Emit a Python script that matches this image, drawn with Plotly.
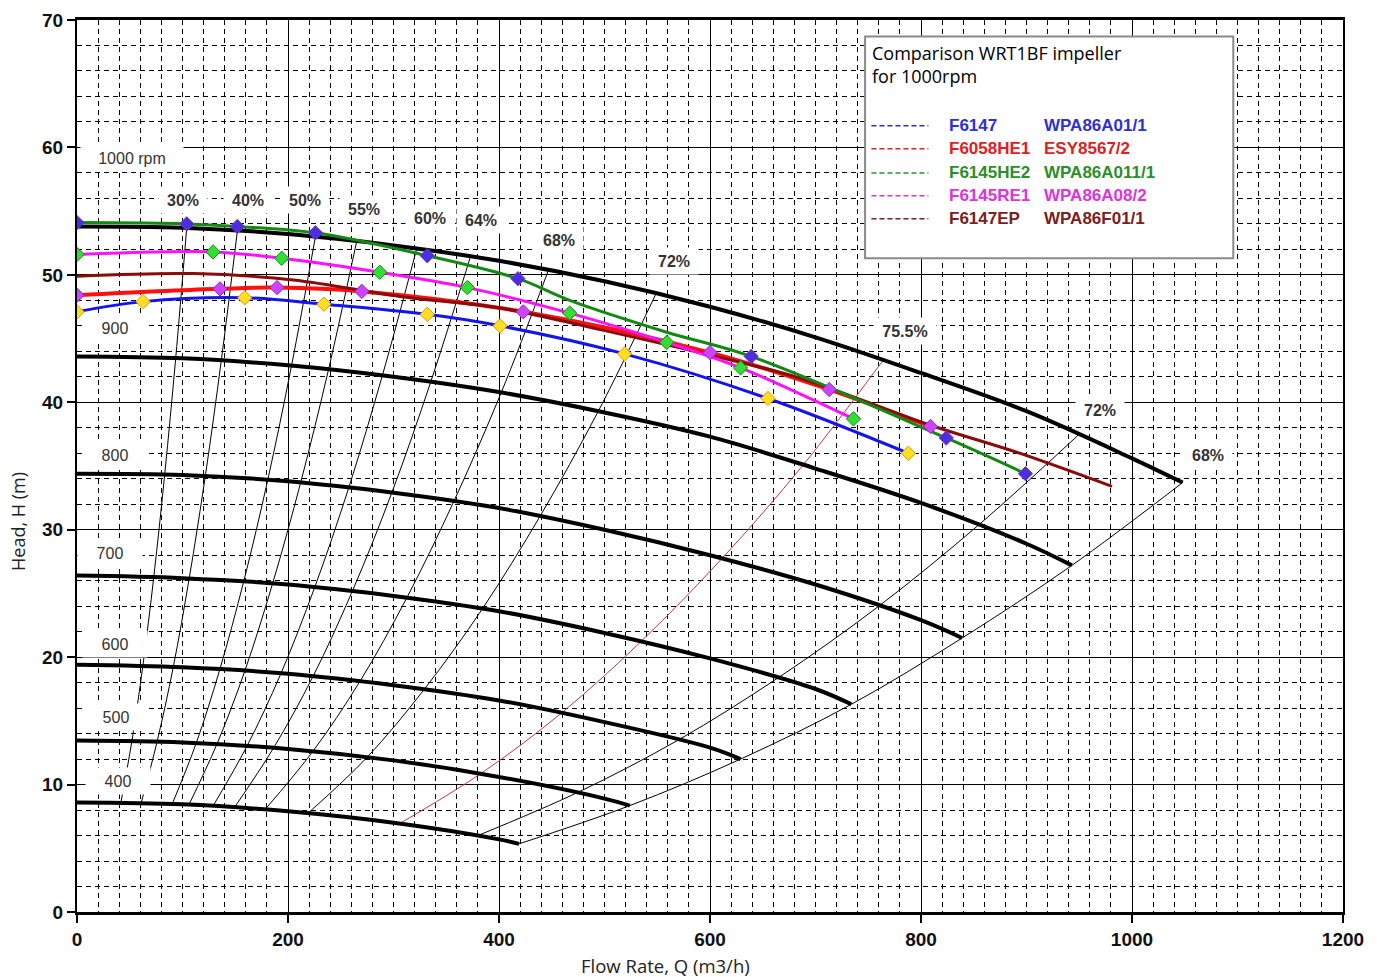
import plotly.graph_objects as go

# ---------------- data ----------------
# iso-speed pump curves (flow m3/h, head m)
speed_names = ["1000 rpm", "900", "800", "700", "600", "500", "400"]
q1000 = [0, 100, 200, 300, 400, 500, 600, 700, 800, 900, 1000, 1048]
h1000 = [53.8, 53.7, 53.2, 52.3, 51.1, 49.5, 47.5, 45.1, 42.3, 39.3, 35.6, 33.7]
q900 = [0, 100, 200, 300, 400, 500, 600, 700, 800, 900, 943]
h900 = [43.6, 43.45, 42.9, 42.0, 40.8, 39.2, 37.3, 34.8, 32.1, 28.9, 27.2]
q800 = [0, 100, 200, 300, 400, 500, 600, 700, 800, 839]
h800 = [34.4, 34.3, 33.8, 32.9, 31.7, 30.0, 28.0, 25.7, 22.9, 21.5]
q700 = [0, 100, 200, 300, 400, 500, 600, 700, 734]
h700 = [26.4, 26.2, 25.7, 24.8, 23.6, 21.9, 19.9, 17.5, 16.3]
q600 = [0, 100, 200, 300, 400, 500, 600, 629]
h600 = [19.4, 19.2, 18.7, 17.8, 16.6, 14.9, 12.9, 12.0]
q500 = [0, 100, 200, 300, 400, 500, 524]
h500 = [13.45, 13.3, 12.8, 11.9, 10.6, 8.9, 8.35]
q400 = [0, 100, 200, 300, 400, 419]
h400 = [8.6, 8.45, 7.9, 7.0, 5.7, 5.35]

# iso-efficiency lines (points on the 1000 ... 400 rpm curves)
eff_30_q = [104, 93.6, 83.2, 72.8, 62.4, 52, 41.6]
eff_30_h = [53.7, 43.5, 34.4, 26.3, 19.3, 13.4, 8.6]
eff_40_q = [152, 136.8, 121.6, 106.4, 91.2, 76, 60.8]
eff_40_h = [53.45, 43.3, 34.2, 26.2, 19.2, 13.4, 8.55]
eff_50_q = [226, 203.4, 180.8, 158.2, 135.6, 113, 90.4]
eff_50_h = [53.0, 42.9, 33.9, 26.0, 19.1, 13.25, 8.5]
eff_55_q = [265, 238.5, 212, 185.5, 159, 132.5, 106]
eff_55_h = [52.6, 42.6, 33.7, 25.8, 18.9, 13.15, 8.4]
eff_60_q = [322, 289.8, 257.6, 225.4, 193.2, 161, 128.8]
eff_60_h = [52.05, 42.2, 33.3, 25.5, 18.7, 13.0, 8.3]
eff_64_q = [373, 335.7, 298.4, 261.1, 223.8, 186.5, 149.2]
eff_64_h = [51.45, 41.7, 32.9, 25.2, 18.5, 12.9, 8.2]
eff_68_q = [447, 402.3, 357.6, 312.9, 268.2, 223.5, 178.8]
eff_68_h = [50.4, 40.8, 32.3, 24.7, 18.1, 12.6, 8.1]
eff_72_q = [549, 494.1, 439.2, 384.3, 329.4, 274.5, 219.6]
eff_72_h = [48.55, 39.3, 31.1, 23.8, 17.5, 12.1, 7.8]
eff_755_q = [765, 688.5, 612, 535.5, 459, 382.5, 306]
eff_755_h = [43.4, 35.1, 27.8, 21.3, 15.6, 10.85, 6.95]
eff_72r_q = [950, 855, 760, 665, 570, 475, 380]
eff_72r_h = [37.5, 30.4, 24.0, 18.4, 13.5, 9.4, 6.0]
eff_68r_q = [1048, 943, 839, 734, 629, 524, 419]
eff_68r_h = [33.7, 27.2, 21.5, 16.3, 12.0, 8.35, 5.35]

# efficiency labels
eff_labels = ["30%", "40%", "50%", "55%", "60%", "64%", "68%", "72%", "75.5%", "72%", "68%"]
eff_label_q = [100, 162, 216, 272, 335, 383, 457, 566, 785, 970, 1072]
eff_label_h = [55.9, 55.9, 55.9, 55.2, 54.5, 54.3, 52.7, 51.1, 45.6, 39.4, 35.9]

# speed labels
speed_label_q = [52, 36, 36, 31, 36, 37, 39]
speed_label_h = [59.2, 45.8, 35.9, 28.2, 21.0, 15.3, 10.3]

# measured impellers
s_names = ["F6147", "F6058HE1", "F6145HE2", "F6145RE1", "F6147EP"]
s_codes = ["WPA86A01/1", "ESY8567/2", "WPA86A011/1", "WPA86A08/2", "WPA86F01/1"]

f6147_q = [0, 62.6, 159, 234, 332, 401, 519, 655, 788]
f6147_h = [47.1, 47.9, 48.2, 47.7, 46.9, 46.0, 43.8, 40.3, 36.0]
f6058_q = [0, 135.5, 189.6, 270, 423, 600, 713, 809]
f6058_h = [48.4, 48.9, 49.0, 48.7, 47.1, 43.9, 41.0, 38.1]
f6145he2_q = [0, 104, 152, 226, 332, 418, 467, 559, 639, 824, 899]
f6145he2_h = [54.1, 54.0, 53.8, 53.3, 51.5, 49.7, 48.0, 45.5, 43.6, 37.2, 34.4]
f6145he2_mk_q = [0, 104, 152, 226, 332, 418, 639, 824, 899]
f6145he2_mk_h = [54.1, 54.0, 53.8, 53.3, 51.5, 49.7, 43.6, 37.2, 34.4]
f6145re1_q = [0, 129, 194, 287, 370, 467, 559, 629, 736]
f6145re1_h = [51.6, 51.8, 51.3, 50.2, 49.0, 47.0, 44.7, 42.7, 38.7]
f6147ep_q = [0, 110, 205, 306, 401, 496, 590, 685, 809, 890, 981]
f6147ep_h = [49.9, 50.1, 49.6, 48.3, 47.4, 45.7, 43.9, 41.9, 38.2, 36.1, 33.4]

# ---------------- figure ----------------
fig = go.Figure()

# iso-efficiency thin lines
eff_lines = [
    (eff_30_q, eff_30_h, "black"), (eff_40_q, eff_40_h, "black"),
    (eff_50_q, eff_50_h, "black"), (eff_55_q, eff_55_h, "black"),
    (eff_60_q, eff_60_h, "black"), (eff_64_q, eff_64_h, "black"),
    (eff_68_q, eff_68_h, "black"), (eff_72_q, eff_72_h, "black"),
    (eff_755_q, eff_755_h, "#c8344e"), (eff_72r_q, eff_72r_h, "black"),
    (eff_68r_q, eff_68r_h, "black"),
]
for q, h, c in eff_lines:
    fig.add_trace(go.Scatter(x=q, y=h, mode="lines", line=dict(color=c, width=1, shape="spline"),
                             showlegend=False, hoverinfo="skip"))

# speed curves
for q, h in [(q1000, h1000), (q900, h900), (q800, h800), (q700, h700),
             (q600, h600), (q500, h500), (q400, h400)]:
    fig.add_trace(go.Scatter(x=q, y=h, mode="lines", line=dict(color="black", width=4, shape="spline"),
                             showlegend=False, hoverinfo="skip"))

# measured series
fig.add_trace(go.Scatter(x=f6058_q, y=f6058_h, mode="lines", line=dict(color="#ff1010", width=4, shape="spline"),
                         showlegend=False))
fig.add_trace(go.Scatter(x=f6147ep_q, y=f6147ep_h, mode="lines", line=dict(color="#8b0a0a", width=3, shape="spline"),
                         showlegend=False))
fig.add_trace(go.Scatter(x=f6147_q, y=f6147_h, mode="lines", line=dict(color="#1414f0", width=3, shape="spline"),
                         showlegend=False))
fig.add_trace(go.Scatter(x=f6145re1_q, y=f6145re1_h, mode="lines", line=dict(color="#ff10ff", width=3, shape="spline"),
                         showlegend=False))
fig.add_trace(go.Scatter(x=f6145he2_q, y=f6145he2_h, mode="lines", line=dict(color="#128a12", width=3, shape="spline"),
                         showlegend=False))

# markers
mk = dict(symbol="diamond", size=11)
fig.add_trace(go.Scatter(x=f6147_q, y=f6147_h, mode="markers",
                         marker=dict(**mk, color="#ffe020", line=dict(color="#f09000", width=1)), showlegend=False))
fig.add_trace(go.Scatter(x=f6058_q, y=f6058_h, mode="markers",
                         marker=dict(**mk, color="#cc44ff", line=dict(color="#9922cc", width=1)), showlegend=False))
fig.add_trace(go.Scatter(x=f6145re1_q, y=f6145re1_h, mode="markers",
                         marker=dict(**mk, color="#33dd33", line=dict(color="#118811", width=1)), showlegend=False))
fig.add_trace(go.Scatter(x=f6145he2_mk_q, y=f6145he2_mk_h, mode="markers",
                         marker=dict(**mk, color="#4a2ee0", line=dict(color="#7733cc", width=1)), showlegend=False))

annotations = []
lab_font = dict(family="Liberation Sans, Arial", size=16, color="#333333")
for t, q, h in zip(speed_names, speed_label_q, speed_label_h):
    annotations.append(dict(x=q, y=h, xref="x", yref="y", text=t, showarrow=False,
                            font=lab_font, bgcolor="white", width=(100 if "rpm" in t else 62), height=24))
for t, q, h in zip(eff_labels, eff_label_q, eff_label_h):
    annotations.append(dict(x=q, y=h, xref="x", yref="y", text=t, showarrow=False,
                            font=dict(family="Liberation Sans, Arial", size=16, color="#333333", weight="bold"),
                            bgcolor="white", width=(60 if len(t) > 3 else 46), height=24))

# legend box
shapes = [dict(type="rect", xref="x", yref="y", x0=747, x1=1096, y0=51.3, y1=68.7,
               fillcolor="white", line=dict(color="#8a8a8a", width=2), layer="above")]
leg_colors = ["#2f2fd8", "#e02020", "#2a8f2a", "#dd33dd", "#7a2020"]
leg_rows_h = [61.7, 59.9, 58.0, 56.2, 54.4]
for c, hh, n, cd in zip(leg_colors, leg_rows_h, s_names, s_codes):
    shapes.append(dict(type="line", xref="x", yref="y", x0=753, x1=807, y0=hh, y1=hh,
                       line=dict(color=c, width=1.5, dash="5px,3px"), layer="above"))
    annotations.append(dict(x=825, y=hh, xref="x", yref="y", text=n, showarrow=False, xanchor="left",
                            font=dict(family="Liberation Sans, Arial", size=17, color=c, weight="bold")))
    annotations.append(dict(x=915, y=hh, xref="x", yref="y", text=cd, showarrow=False, xanchor="left",
                            font=dict(family="Liberation Sans, Arial", size=17, color=c, weight="bold")))
annotations.append(dict(x=752, y=68.5, xref="x", yref="y", text="Comparison WRT1BF impeller<br>for 1000rpm",
                        showarrow=False, xanchor="left", yanchor="top", align="left",
                        font=dict(family="Open Sans, Lato, sans-serif", size=18, color="black")))

# axis titles
annotations.append(dict(x=(665 - 77) / 1266, y=(912 - 965) / 892, xref="paper", yref="paper",
                        xanchor="center", yanchor="middle",
                        text="Flow Rate, Q (m3/h)", showarrow=False,
                        font=dict(family="Open Sans, Lato, sans-serif", size=18.5, color="#222")))
annotations.append(dict(x=(18 - 77) / 1266, y=(912 - 522) / 892, xref="paper", yref="paper",
                        xanchor="center", yanchor="middle",
                        text="Head, H (m)", showarrow=False, textangle=-90,
                        font=dict(family="Open Sans, Lato, sans-serif", size=18, color="#222")))

tickfont = dict(family="Liberation Sans Narrow, Liberation Sans, Arial", size=19, color="#111", weight="bold")
fig.update_xaxes(range=[0, 1200], dtick=200, tick0=0, showgrid=True, gridcolor="black", gridwidth=1,
                 minor=dict(dtick=20, showgrid=True, gridcolor="black", griddash="5px,4px", gridwidth=1),
                 showline=True, linecolor="black", linewidth=3, mirror=True, ticks="outside", ticklen=8,
                 tickcolor="black", tickwidth=1.5, zeroline=False, tickfont=tickfont, automargin=False)
fig.update_yaxes(range=[0, 70], dtick=10, tick0=0, showgrid=True, gridcolor="black", gridwidth=1,
                 minor=dict(dtick=2, showgrid=True, gridcolor="black", griddash="5px,4px", gridwidth=1),
                 showline=True, linecolor="black", linewidth=2, mirror=True, ticks="outside", ticklen=8,
                 tickcolor="black", tickwidth=1.5, zeroline=False, tickfont=tickfont, automargin=False)

fig.update_layout(width=1377, height=977, margin=dict(l=77, r=34, t=20, b=65, autoexpand=False),
                  plot_bgcolor="white", paper_bgcolor="white", showlegend=False,
                  annotations=annotations, shapes=shapes)

# remove the default 8px page margin so the full-size figure fits the window exactly
fig.write_html("out.html", config={"displayModeBar": False},
               post_script="document.body.style.margin='0';document.body.style.overflow='hidden';")
